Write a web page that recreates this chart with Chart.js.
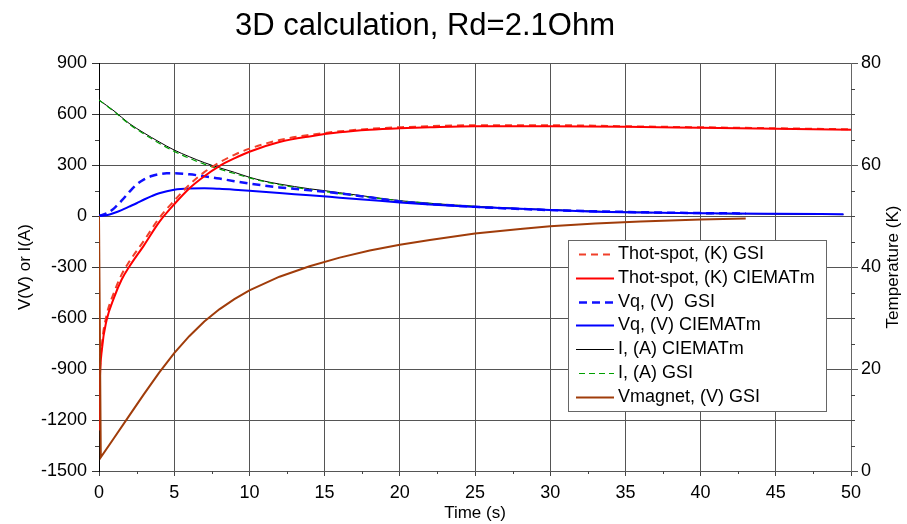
<!DOCTYPE html>
<html>
<head>
<meta charset="utf-8">
<title>3D calculation, Rd=2.1Ohm</title>
<script src="https://cdn.jsdelivr.net/npm/chart.js@4.4.1/dist/chart.umd.min.js"></script>
<style>
  html, body { margin: 0; padding: 0; background: #fff; }
  #chart { display: block; }
</style>
</head>
<body>
<canvas id="chart" width="907" height="524"></canvas>
<script>
// =======================================================
// Data
// =======================================================
const titleText = '3D calculation, Rd=2.1Ohm'
const rightTitle = 'Temperature (K)'

// hot-spot temperature (K), right axis
const tHotGsi = [0, 0.05, 0.2, 0.5, 1, 1.5, 2, 3, 4, 5, 6, 7, 8, 9, 10, 12, 14, 16, 18, 20, 25, 30, 35, 40, 45, 50]
const hotGsi = [8, 18, 25, 30.5, 35, 38.5, 41, 45.2, 49.6, 53, 56.1, 58.6, 60.5, 62, 63.2, 64.9, 65.9, 66.6, 67.1, 67.4, 67.8, 67.8, 67.6, 67.4, 67.2, 67]
const tHotCiemat = [0, 0.05, 0.2, 0.5, 1, 1.5, 2, 3, 4, 5, 6, 7, 8, 9, 10, 12, 14, 16, 18, 20, 22, 25, 28, 30, 35, 40, 45, 50]
const hotCiemat = [8, 17, 24, 29.5, 34, 37.5, 40, 44.3, 48.8, 52.3, 55.4, 57.8, 59.8, 61.3, 62.6, 64.5, 65.6, 66.4, 66.9, 67.2, 67.4, 67.6, 67.6, 67.6, 67.5, 67.3, 67.1, 66.9]

// quench voltage (V)
const tVqGsi = [0, 0.5, 1, 1.5, 2, 2.5, 3, 3.5, 4, 4.5, 5, 6, 7, 8, 9, 10, 12, 14, 16, 18, 20, 25, 30, 35, 40, 43]
const vqGsi = [0, 15, 45, 90, 140, 185, 215, 235, 246, 251, 251, 245, 234, 220, 205, 191, 168, 152, 133, 110, 86, 54, 35, 24, 17, 15]
const tVqCiemat = [0, 0.5, 1, 1.5, 2, 2.5, 3, 3.5, 4, 5, 6, 7, 8, 9, 10, 12, 14, 16, 18, 20, 22, 25, 28, 30, 33, 36, 40, 45, 49.5]
const vqCiemat = [0, 5, 18, 35, 55, 75, 97, 117, 134, 155, 162, 163, 160, 155, 149, 135, 122, 108, 94, 80, 68, 53, 42, 35, 25, 20, 16, 13, 11]

// current (A)
const tCurCiemat = [0, 1, 2, 3, 4, 5, 6, 7, 8, 9, 10, 11, 12, 14, 15, 16, 18, 20, 22, 25, 28, 30, 33, 35, 40, 45, 49.5]
const curCiemat = [682, 618, 545, 488, 436, 388, 349, 314, 284, 257, 228, 205, 188, 160, 149, 137, 113, 90, 75, 57, 44, 37, 28, 24, 16, 11, 8]
const tCurGsi = [0, 1, 2, 3, 4, 5, 6, 7, 8, 9, 10, 12, 14, 16, 18, 20, 25, 30, 35, 40, 43]
const curGsi = [682, 615, 541, 482, 428, 380, 340, 305, 276, 250, 224, 184, 156, 132, 110, 90, 56, 36, 23, 15, 12]

// magnet voltage (V)
const tMag = [0, 0.12, 1, 2, 3, 4, 5, 6, 7, 8, 9, 10, 12, 14, 16, 18, 20, 22, 25, 28, 30, 33, 36, 40, 43]
const vMag = [0, -1420, -1306, -1176, -1046, -921, -807, -707, -621, -549, -489, -437, -357, -296, -245, -203, -169, -141, -103, -76, -61, -44, -32, -21, -14]

const pts = (xs, ys) => xs.map((x, i) => ({ x, y: ys[i] }))

// =======================================================
// Plugins
// =======================================================
const FONT = "'Liberation Sans', Arial, Helvetica, sans-serif"

const plotTitles = {
  id: 'plotTitles',
  afterDraw(chart) {
    const { ctx, chartArea: a } = chart
    ctx.save()
    ctx.fillStyle = '#000'
    ctx.textAlign = 'center'
    ctx.textBaseline = 'middle'
    ctx.font = `31px ${FONT}`
    ctx.fillText(titleText, 425, 26)
    // right axis title reads bottom-to-top, same as the left one
    ctx.font = `17px ${FONT}`
    ctx.translate(893, (a.top + a.bottom) / 2)
    ctx.rotate(-Math.PI / 2)
    ctx.fillText(rightTitle, 0, 0)
    ctx.restore()
  },
}

// short ticks between the labelled ones
const minorTicks = {
  id: 'minorTicks',
  afterDraw(chart) {
    const { ctx, chartArea: a, scales } = chart
    const px = (v) => Math.round(v) + 0.5
    ctx.save()
    ctx.strokeStyle = '#444'
    ctx.lineWidth = 1
    ctx.beginPath()
    for (let v = 2.5; v < 50; v += 5) {
      const x = px(scales.x.getPixelForValue(v))
      ctx.moveTo(x, a.bottom)
      ctx.lineTo(x, a.bottom + 3)
    }
    for (let v = -1350; v < 900; v += 300) {
      const y = px(scales.y.getPixelForValue(v))
      ctx.moveTo(a.left - 4, y)
      ctx.lineTo(a.left, y)
    }
    for (let v = 5; v < 80; v += 5) {
      if (v % 20 === 0) continue
      const y = px(scales.y1.getPixelForValue(v))
      ctx.moveTo(a.right, y)
      ctx.lineTo(a.right + 4, y)
    }
    ctx.stroke()
    ctx.restore()
  },
}

// boxed legend inside the plot
const boxLegend = {
  id: 'boxLegend',
  afterDatasetsDraw(chart) {
    const ctx = chart.ctx
    const x0 = 568, y0 = 240, w = 258, h = 171, row = 23.8
    ctx.save()
    ctx.fillStyle = '#fff'
    ctx.fillRect(x0, y0, w, h)
    ctx.strokeStyle = '#666'
    ctx.lineWidth = 1
    ctx.strokeRect(x0 + 0.5, y0 + 0.5, w, h)
    ctx.font = `18px ${FONT}`
    ctx.textBaseline = 'middle'
    ctx.textAlign = 'left'
    chart.data.datasets.forEach((ds, i) => {
      const y = Math.round(y0 + 14 + i * row) + 0.5
      const dashed = ds.borderDash && ds.borderDash.length
      ctx.strokeStyle = ds.borderColor
      ctx.lineWidth = ds.borderWidth
      ctx.setLineDash(dashed ? ds.borderDash : [])
      ctx.beginPath()
      ctx.moveTo(x0 + (dashed ? 11 : 8), y)
      ctx.lineTo(x0 + 46, y)
      ctx.stroke()
      ctx.setLineDash([])
      ctx.fillStyle = '#000'
      ctx.fillText(ds.label, x0 + 50, y)
    })
    ctx.restore()
  },
}

// =======================================================
// Chart
// =======================================================
const line = (label, data, color, width, dash, yAxisID, order, smooth = true) => ({
  label,
  data,
  borderColor: color,
  borderWidth: width,
  borderDash: dash,
  yAxisID,
  order,
  fill: false,
  pointRadius: 0,
  tension: 0,
  cubicInterpolationMode: smooth ? 'monotone' : 'default',
})

const plain = (v) => String(v)

new Chart(document.getElementById('chart').getContext('2d'), {
  type: 'line',
  data: {
    datasets: [
      line('Thot-spot, (K) GSI', pts(tHotGsi, hotGsi), '#f0402a', 2, [7, 5], 'y1', 3),
      line('Thot-spot, (K) CIEMATm', pts(tHotCiemat, hotCiemat), '#ff0000', 2, [], 'y1', 2),
      line('Vq, (V)  GSI', pts(tVqGsi, vqGsi), '#1010ff', 2.5, [8, 5], 'y', 5),
      line('Vq, (V) CIEMATm', pts(tVqCiemat, vqCiemat), '#0000ff', 2, [], 'y', 4),
      line('I, (A) CIEMATm', pts(tCurCiemat, curCiemat), '#000000', 1, [], 'y', 7),
      line('I, (A) GSI', pts(tCurGsi, curGsi), '#00a000', 1.2, [6, 4], 'y', 6),
      line('Vmagnet, (V) GSI', pts(tMag, vMag), '#a03c0a', 2, [], 'y', 1, false),
    ],
  },
  options: {
    responsive: false,
    animation: false,
    layout: { padding: { top: 63 } },
    plugins: {
      legend: { display: false },
      tooltip: { enabled: false },
    },
    scales: {
      x: {
        type: 'linear',
        min: 0,
        max: 50,
        afterFit: (s) => { s.height = 53 },
        ticks: { stepSize: 5, color: '#000', font: { family: FONT, size: 18 }, padding: 6, maxRotation: 0, callback: plain },
        grid: { color: '#555', tickColor: '#444', tickLength: 5 },
        border: { color: '#555' },
        title: { display: true, text: 'Time (s)', color: '#000', font: { family: FONT, size: 17 }, padding: { top: 0, bottom: 0 } },
      },
      y: {
        position: 'left',
        min: -1500,
        max: 900,
        afterFit: (s) => { s.width = 99 },
        ticks: { stepSize: 300, color: '#000', font: { family: FONT, size: 18 }, padding: 5, callback: plain },
        grid: { color: '#555', tickColor: '#333', tickLength: 7 },
        border: { color: '#000' },
        title: { display: true, text: 'V(V) or I(A)', color: '#000', font: { family: FONT, size: 17 }, padding: { top: 15, bottom: 0 } },
      },
      y1: {
        position: 'right',
        min: 0,
        max: 80,
        afterFit: (s) => { s.width = 56 },
        ticks: { stepSize: 20, color: '#000', font: { family: FONT, size: 18 }, padding: 3, callback: plain },
        grid: { drawOnChartArea: false, tickColor: '#555', tickLength: 7 },
        border: { color: '#666' },
      },
    },
  },
  plugins: [plotTitles, minorTicks, boxLegend],
})
</script>
</body>
</html>
